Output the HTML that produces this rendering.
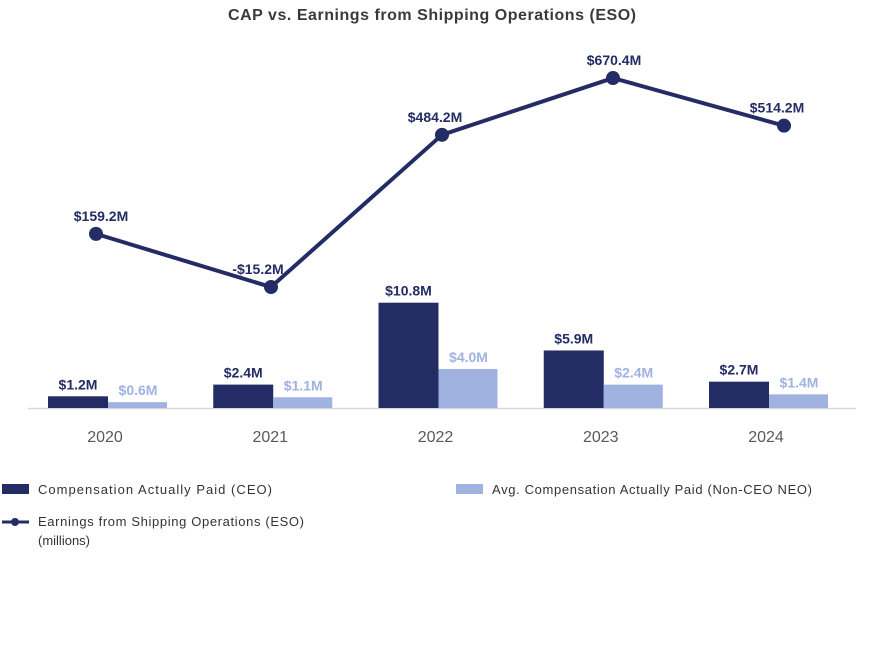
<!DOCTYPE html>
<html><head><meta charset="utf-8"><style>
body{margin:0;background:#fff;font-family:"Liberation Sans",sans-serif}
svg text{font-family:"Liberation Sans",sans-serif}
</style></head><body>
<svg id="chart" width="874" height="654" viewBox="0 0 874 654" xmlns="http://www.w3.org/2000/svg">
<text x="432" y="20" text-anchor="middle" font-size="16" font-weight="bold" fill="#3a3a3a" textLength="408">CAP vs. Earnings from Shipping Operations (ESO)</text>
<line x1="28" y1="408.5" x2="856" y2="408.5" stroke="#d9d9d9" stroke-width="1.5"/>
<g id="bars"></g><g id="line"></g><g id="xlabels"></g>
<g>
<rect x="2" y="484" width="27" height="10" fill="#232c64"/>
<text x="38" y="494" font-size="13" fill="#333" textLength="234">Compensation Actually Paid (CEO)</text>
<rect x="456" y="484" width="27" height="10" fill="#9fb2e0"/>
<text x="492" y="494" font-size="13" fill="#333" textLength="320">Avg. Compensation Actually Paid (Non-CEO NEO)</text>
<line x1="2" y1="522" x2="29" y2="522" stroke="#232c64" stroke-width="3"/>
<circle cx="15" cy="522" r="4" fill="#232c64"/>
<text x="38" y="526" font-size="13" fill="#333" textLength="266">Earnings from Shipping Operations (ESO)</text>
<text x="38" y="545" font-size="13" fill="#333">(millions)</text>
</g>
</svg>
<script>
const years=["2020","2021","2022","2023","2024"];
const ceo=[1.2,2.4,10.8,5.9,2.7];
const nonCeo=[0.6,1.1,4.0,2.4,1.4];
const eso=[159.2,-15.2,484.2,670.4,514.2];
const ceoLabels=["$1.2M","$2.4M","$10.8M","$5.9M","$2.7M"];
const nonCeoLabels=["$0.6M","$1.1M","$4.0M","$2.4M","$1.4M"];
const esoLabels=["$159.2M","-$15.2M","$484.2M","$670.4M","$514.2M"];
const labelShift=[5,-13,-7,1,-7];
const NS="http://www.w3.org/2000/svg";
const base=408;
function barX(i){return 108+i*165.25;}
function barY(v){return base-v*9.75;}
function lineX(i){return i===0?96:271+(i-1)*171;}
function lineY(v){return 282.4-v*0.3048;}
function mk(t,a,parent){const e=document.createElementNS(NS,t);for(const k in a)e.setAttribute(k,a[k]);parent.appendChild(e);return e;}
const gb=document.getElementById('bars'),gl=document.getElementById('line'),gx=document.getElementById('xlabels');
years.forEach((y,i)=>{
 const c=barX(i);
 let r=mk('rect',{x:c-60,y:barY(ceo[i]),width:60,height:base-barY(ceo[i]),fill:'#232c64'},gb);
 
 
 let t=mk('text',{x:c-30,y:barY(ceo[i])-7,'text-anchor':'middle','font-size':14,'font-weight':'bold',fill:'#232c64'},gb);t.textContent=ceoLabels[i];
 
 
 r=mk('rect',{x:c,y:barY(nonCeo[i]),width:59,height:base-barY(nonCeo[i]),fill:'#9fb2e0'},gb);
 
 
 t=mk('text',{x:c+30,y:barY(nonCeo[i])-7,'text-anchor':'middle','font-size':14,'font-weight':'bold',fill:'#9fb2e0'},gb);t.textContent=nonCeoLabels[i];
 
 
 t=mk('text',{x:c-3,y:442,'text-anchor':'middle','font-size':16,fill:'#595959'},gx);t.textContent=y;
 
 
});
const pts=eso.map((v,i)=>lineX(i)+','+lineY(v)).join(' ');
const pl=mk('polyline',{points:pts,fill:'none',stroke:'#232c64','stroke-width':4,'stroke-linejoin':'round'},gl);


eso.forEach((v,i)=>{
 const p=mk('circle',{cx:lineX(i),cy:lineY(v),r:7,fill:'#232c64'},gl);
 
 
 const t=mk('text',{x:lineX(i)+labelShift[i],y:lineY(v)-13,'text-anchor':'middle','font-size':14,'font-weight':'bold',fill:'#232c64'},gl);t.textContent=esoLabels[i];
 
 
});
</script>
</body></html>
